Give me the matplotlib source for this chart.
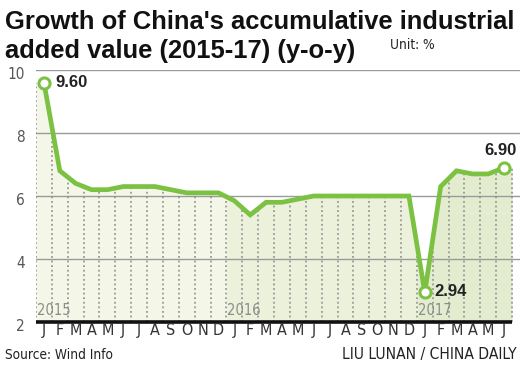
import matplotlib
matplotlib.use("Agg")
import matplotlib.pyplot as plt
import numpy as np

months = ["J", "F", "M", "A", "M", "J", "J", "A", "S", "O", "N", "D",
          "J", "F", "M", "A", "M", "J", "J", "A", "S", "O", "N", "D",
          "J", "F", "M", "A", "M", "J"]
values = [9.60, 6.8, 6.4, 6.2, 6.2, 6.3, 6.3, 6.3, 6.2, 6.1, 6.1, 6.1,
          5.85, 5.4, 5.8, 5.8, 5.9, 6.0, 6.0, 6.0, 6.0, 6.0, 6.0, 6.0,
          2.94, 6.3, 6.8, 6.7, 6.7, 6.90]
years = ["2015", "2016", "2017"]
year_start = [0, 12, 24]
labelled = {0: "9.60", 24: "2.94", 29: "6.90"}
yticks = [2, 4, 6, 8, 10]

NARROW = dict(family="DejaVu Sans", fontstretch="condensed", fontweight="light")
boldf = "Liberation Sans"

GREEN = "#7cc242"
fig = plt.figure(figsize=(5.25, 3.68), dpi=100)
L, R, B, T = 36/525, 520/525, (368-322)/368, (368-70)/368
ax = fig.add_axes([L, B, R-L, T-B])
ax.set_xlim(-0.5, 30.0)
ax.set_ylim(2, 10)
for s in ax.spines.values():
    s.set_visible(False)
ax.set_xticks([]); ax.set_yticks([])

x = np.arange(len(values))
v = np.array(values)
xe = np.concatenate([[-0.5], x, [len(values)-0.5]])
ve = np.concatenate([[v[0]], v, [v[-1]]])

for t in yticks[1:]:
    ax.axhline(t, color="#9a9a9a", lw=1.0, zorder=1)

fills = ["#f4f7e8", "#ebf1db", "#e4ecd0"]
bounds = [-0.5, 11.5, 23.5, 29.5]
for i in range(3):
    xs = np.linspace(bounds[i], bounds[i+1], 200)
    ys = np.interp(xs, xe, ve)
    ax.fill_between(xs, 2, ys, color=fills[i], lw=0, zorder=0.5)

for k in range(len(values)+1):
    xb = k - 0.5
    top = np.interp(xb, xe, ve)
    ax.plot([xb, xb], [2, top], color="#8a8a8a", lw=1.1, ls=(0, (1.2, 1.8)), zorder=2)

ax.plot([-0.5, len(values)-0.5], [2, 2], color="#111111", lw=2.6, zorder=3, clip_on=False,
        solid_capstyle="butt")

ax.plot(x, v, color=GREEN, lw=3.4, zorder=4, solid_joinstyle="miter")
for i, s in labelled.items():
    ax.plot(x[i], v[i], "o", ms=8, mfc="white", mec=GREEN, mew=2.2, zorder=5)

ax.text(0.75, 9.60, labelled[0], ha="left", va="center", fontsize=12, fontweight="bold",
        family=boldf, color="#222222", zorder=6)
ax.text(24.6, 2.97, labelled[24], ha="left", va="center", fontsize=12, fontweight="bold",
        family=boldf, color="#222222", zorder=6)
ax.text(28.8, 7.22, labelled[29], ha="center", va="bottom", fontsize=12, fontweight="bold",
        family=boldf, color="#222222", zorder=6)

for y, s in zip(years, year_start):
    ax.text(s - 0.45, 2.12, y, ha="left", va="bottom", fontsize=10.5, color="#8c8c8c",
            zorder=6, **NARROW)

for i, m in enumerate(months):
    ax.text(i, 1.72, m, ha="center", va="center", fontsize=11.5, color="#333333",
            clip_on=False, **NARROW)

for t in yticks:
    fig.text(25/525, 1 - (322 - (t-2)*31.5)/368 - 0.012, str(t), ha="right", va="center",
             fontsize=11, color="#555555", **NARROW)

fig.text(5/525, 1 - 29/368, "Growth of China's accumulative industrial", ha="left",
         va="baseline", fontsize=18.4, fontweight="bold", family=boldf, color="#111111")
fig.text(5/525, 1 - 58/368, "added value (2015-17) (y-o-y)", ha="left",
         va="baseline", fontsize=18.4, fontweight="bold", family=boldf, color="#111111")
fig.text(390/525, 1 - 49/368, "Unit: %", ha="left", va="baseline", fontsize=9.8,
         color="#222222", **NARROW)

fig.text(5/525, 1 - 359/368, "Source: Wind Info", ha="left", va="baseline", fontsize=9.8,
         color="#222222", **NARROW)
fig.text(517/525, 1 - 359/368, "LIU LUNAN / CHINA DAILY", ha="right", va="baseline",
         fontsize=11.2, color="#222222", **NARROW)

fig.savefig("out.png", dpi=100)
